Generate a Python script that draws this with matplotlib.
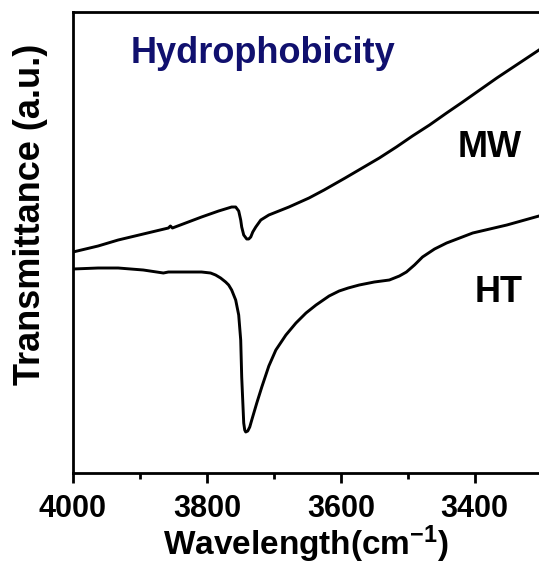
import matplotlib
matplotlib.use('Agg')
import matplotlib.pyplot as plt
from matplotlib.ticker import MultipleLocator

plt.rcParams['font.family'] = ['Liberation Sans', 'DejaVu Sans']
plt.rcParams['font.weight'] = 'bold'
plt.rcParams['mathtext.fontset'] = 'custom'
plt.rcParams['mathtext.rm'] = 'Liberation Sans:bold'
plt.rcParams['mathtext.bf'] = 'Liberation Sans:bold'
plt.rcParams['mathtext.default'] = 'bf'

# wavenumbers (cm-1) and transmittance (a.u.)
mw_wn = [4000, 3962.5, 3932.5, 3895, 3857.5, 3854.5, 3851.5, 3808, 3782.5, 3763,
         3757, 3752.5, 3749.5, 3748, 3745, 3740.5, 3737.5, 3734.5, 3731.5, 3727,
         3719.5, 3707.5, 3692.5, 3677.5, 3647.5, 3625, 3593.5, 3568, 3542.5, 3517,
         3493, 3467.5, 3442, 3418, 3392.5, 3367, 3335.5, 3304]
mw_t = [221, 227, 233, 239, 245, 247, 245, 256, 262, 266,
        266, 262, 253, 246, 238, 234, 234, 236, 241, 246,
        253, 258, 262, 266, 275, 283, 295, 305, 315, 326,
        337, 348, 360, 371, 383, 395, 409, 423]

ht_wn = [4000, 3962.5, 3932.5, 3895, 3865, 3857.5, 3835, 3808, 3794.5, 3787,
         3779.5, 3772, 3767.5, 3763, 3757, 3752.5, 3749.5, 3748, 3746.5, 3745,
         3743.5, 3742, 3739, 3736, 3733, 3725.5, 3718, 3707.5, 3697, 3682,
         3667, 3652, 3637, 3617.5, 3602.5, 3589, 3572.5, 3550, 3527.5, 3512.5,
         3502, 3490, 3478, 3460, 3442, 3422.5, 3403, 3377.5, 3352, 3304]
ht_t = [204, 205, 205, 203, 200, 201, 201, 201, 200, 198,
        195, 191, 188, 183, 173, 158, 133, 96, 73, 50,
        43, 41, 42, 46, 53, 70, 86, 107, 123, 138,
        150, 160, 168, 177, 182, 185, 188, 191, 193, 197,
        201, 208, 216, 224, 230, 235, 240, 244, 248, 257]

xticks = [4000, 3800, 3600, 3400]

fig = plt.figure(figsize=(5.39, 5.71), dpi=100)
ax = fig.add_axes([0.1354, 0.1716, 0.8646, 0.8074])

ax.plot(mw_wn, mw_t, color='black', lw=2.1, solid_joinstyle='round')
ax.plot(ht_wn, ht_t, color='black', lw=2.1, solid_joinstyle='round')

ax.set_xlim(4000, 3304)
ax.set_ylim(0, 461)
ax.set_xticks(xticks)
ax.set_xticklabels([str(t) for t in xticks], fontsize=22, fontweight='bold')
ax.xaxis.set_minor_locator(MultipleLocator(100))
ax.tick_params(axis='x', which='major', direction='out', length=7, width=2, pad=8)
ax.tick_params(axis='x', which='minor', direction='out', length=4, width=2)
ax.set_yticks([])
ax.spines['right'].set_visible(False)
for s in ['left', 'bottom', 'top']:
    ax.spines[s].set_linewidth(2)

ax.set_xlabel('Wavelength(cm$^{-1}$)', fontsize=24, fontweight='bold', labelpad=0)
ax.set_ylabel('Transmittance (a.u.)', fontsize=26, fontweight='bold')
ax.yaxis.set_label_coords(-0.054, 0.56)

ax.text(3914.5, 410, 'Hydrophobicity', fontsize=26, fontweight='bold', color='#10106e',
        ha='left', va='baseline')
ax.text(3377.5, 316, 'MW', fontsize=26, fontweight='bold', ha='center', va='baseline')
ax.text(3365, 171, 'HT', fontsize=26, fontweight='bold', ha='center', va='baseline')

fig.savefig('out.png', dpi=100)
